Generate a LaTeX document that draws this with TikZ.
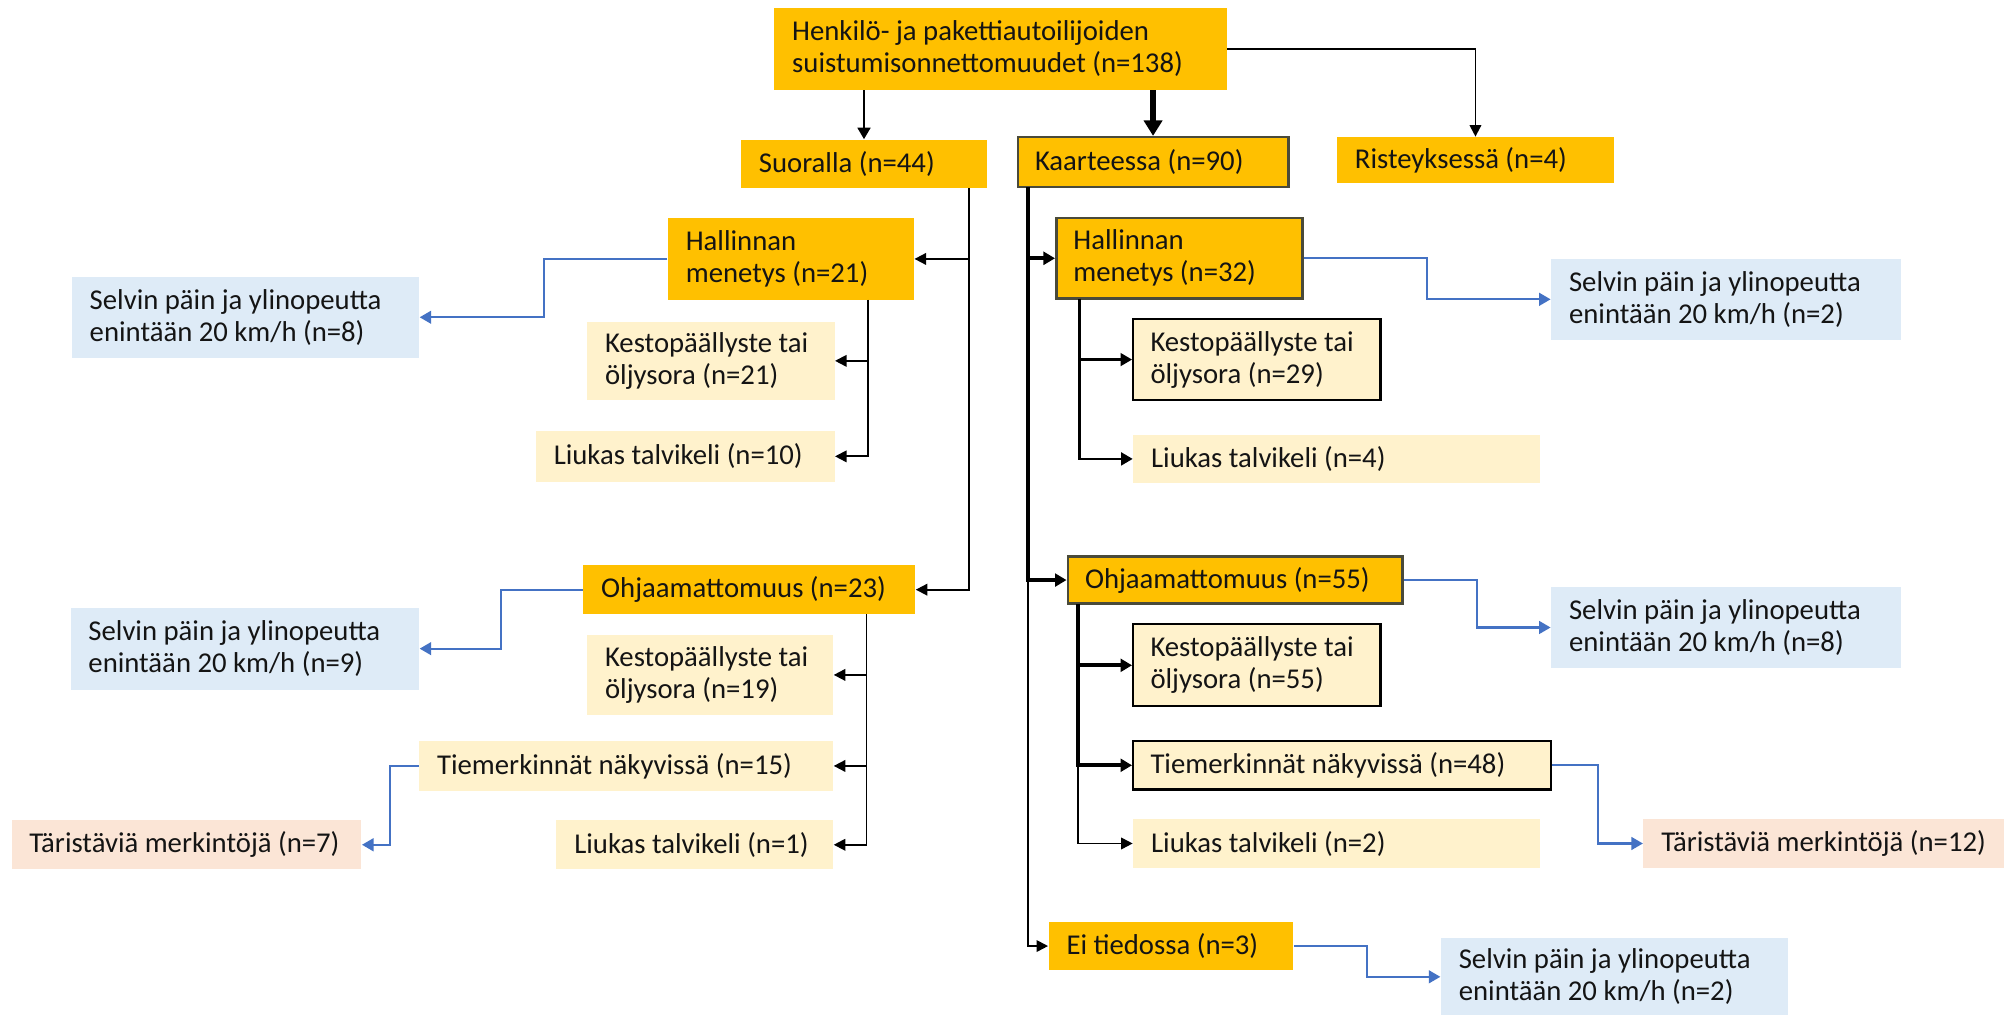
\documentclass[tikz,border=0pt]{standalone}
\usepackage{fontspec}
\setmainfont{Carlito}
\usetikzlibrary{arrows.meta,fit,calc}
\definecolor{org}{HTML}{FFC000}
\definecolor{lyel}{HTML}{FFF2CC}
\definecolor{lblu}{HTML}{DEEBF7}
\definecolor{lpnk}{HTML}{FBE5D6}
\definecolor{bln}{HTML}{4472C4}
\definecolor{brd}{HTML}{4A4A3A}
\newcommand\mybox[7]{%
  \node[#6, fit={(#2,#3)(#4,#5)}, inner sep=0pt] (#1) {};
  \node[txt, anchor=west] (#1-t) at ([xshift=7pt]#1.west) {#7};}
\begin{document}
\begin{tikzpicture}[x=0.5pt,y=-0.5pt,
  txt/.style={align=left,inner sep=0pt,font=\fontsize{11.2}{12.5}\selectfont,text=black!92},
  ob/.style={fill=org},
  obd/.style={fill=org,draw=brd,line width=1pt},
  yb/.style={fill=lyel},
  ybd/.style={fill=lyel,draw=black,line width=0.9pt},
  bb/.style={fill=lblu},
  pb/.style={fill=lpnk},
  arr/.style={draw=black,line width=0.7pt,-{Triangle[length=4.5pt,width=4.5pt]}},
  marr/.style={draw=black,line width=0.9pt,-{Triangle[length=4.5pt,width=5pt]}},
  tarr/.style={draw=black,line width=1.5pt,-{Triangle[length=4.5pt,width=5pt]}},
  barr/.style={draw=bln,line width=0.8pt,-{Triangle[length=4.5pt,width=5pt]}},
]
\path[fill=white] (0,0) rectangle (1568,792);
\useasboundingbox (0,0) rectangle (1568,792);

% top level
\mybox{top}{604}{6}{957}{70}{ob}{Henkilö- ja pakettiautoilijoiden\\suistumisonnettomuudet (n=138)}
\mybox{suo}{578}{109}{770}{147}{ob}{Suoralla (n=44)}
\mybox{kaa}{794}{107}{1005}{146}{obd}{Kaarteessa (n=90)}
\mybox{ris}{1043}{107}{1259}{143}{ob}{Risteyksessä (n=4)}

% left branch
\mybox{hm1}{521}{170}{713}{234}{ob}{Hallinnan\\menetys (n=21)}
\mybox{kp1}{458}{251}{651}{312}{yb}{Kestopäällyste tai\\öljysora (n=21)}
\mybox{lt1}{418}{336}{651}{376}{yb}{Liukas talvikeli (n=10)}
\mybox{sv1}{56}{216}{327}{279}{bb}{Selvin päin ja ylinopeutta\\enintään 20 km/h (n=8)}
\mybox{oh1}{455}{441}{714}{479}{ob}{Ohjaamattomuus (n=23)}
\mybox{kp2}{458}{495}{650}{558}{yb}{Kestopäällyste tai\\öljysora (n=19)}
\mybox{tm1}{327}{578}{650}{617}{yb}{Tiemerkinnät näkyvissä (n=15)}
\mybox{lt2}{434}{640}{650}{678}{yb}{Liukas talvikeli (n=1)}
\mybox{sv2}{55}{474}{327}{538}{bb}{Selvin päin ja ylinopeutta\\enintään 20 km/h (n=9)}
\mybox{ta1}{9}{640}{282}{678}{pb}{Täristäviä merkintöjä (n=7)}

% right branch
\mybox{hm2}{824}{170}{1016}{233}{obd}{Hallinnan\\menetys (n=32)}
\mybox{kp3}{884}{249}{1077}{312}{ybd}{Kestopäällyste tai\\öljysora (n=29)}
\mybox{lt3}{884}{339}{1201}{377}{yb}{Liukas talvikeli (n=4)}
\mybox{sv3}{1210}{202}{1483}{265}{bb}{Selvin päin ja ylinopeutta\\enintään 20 km/h (n=2)}
\mybox{oh2}{833}{434}{1094}{471}{obd}{Ohjaamattomuus (n=55)}
\mybox{kp4}{884}{487}{1077}{551}{ybd}{Kestopäällyste tai\\öljysora (n=55)}
\mybox{tm2}{884}{578}{1210}{616}{ybd}{Tiemerkinnät näkyvissä (n=48)}
\mybox{lt4}{884}{639}{1201}{677}{yb}{Liukas talvikeli (n=2)}
\mybox{sv4}{1210}{458}{1483}{521}{bb}{Selvin päin ja ylinopeutta\\enintään 20 km/h (n=8)}
\mybox{ta2}{1282}{639}{1563}{677}{pb}{Täristäviä merkintöjä (n=12)}
\mybox{ei}{818}{719}{1009}{757}{ob}{Ei tiedossa (n=3)}
\mybox{sv5}{1124}{732}{1395}{792}{bb}{Selvin päin ja ylinopeutta\\enintään 20 km/h (n=2)}

% trunk coordinates
\coordinate (suoT) at (756,147);
\coordinate (hm1T) at (677,234);
\coordinate (oh1T) at (676,479);
\coordinate (kaaT) at (802,146);
\coordinate (hm2T) at (842,233);
\coordinate (oh2T) at (841,471);

% top connectors
\draw[marr] (top.south -| suo.north) -- (suo.north);
\draw[draw=black,line width=2.2pt,-{Triangle[length=6pt,width=7pt]}] (top.south -| kaa.north) -- (kaa.north);
\draw[arr] (top.east) -| (ris.north);

% left branch connectors
\draw[arr] (suoT) |- (oh1.east);
\draw[arr] (suoT) |- (hm1.east);
\draw[arr] (hm1T) |- (lt1.east);
\draw[arr] (hm1T) |- (kp1.east);
\draw[arr] (oh1T) |- (lt2.east);
\draw[arr] (oh1T) |- (tm1.east);
\draw[arr] (oh1T) |- (kp2.east);
\draw[barr] (hm1.west) -| ($(hm1.west)!.5!(sv1.east)$) |- (sv1.east);
\draw[barr] (oh1.west) -| ($(oh1.west)!.5!(sv2.east)$) |- (sv2.east);
\draw[barr] (tm1.west) -| ($(tm1.west)!.5!(ta1.east)$) |- (ta1.east);

% right branch connectors
\draw[arr] (kaaT) |- (ei.west);
\draw[tarr] (kaaT) |- (oh2.west);
\draw[tarr] (kaaT) |- (hm2.west);
\draw[marr] (hm2T) |- (lt3.west);
\draw[marr] (hm2T) |- (kp3.west);
\draw[arr] (oh2T) |- (lt4.west);
\draw[tarr] (oh2T) |- (tm2.west);
\draw[tarr] (oh2T) |- (kp4.west);
\draw[barr] (hm2.east) -| ($(hm2.east)!.5!(sv3.west)$) |- (sv3.west);
\draw[barr] (oh2.east) -| ($(oh2.east)!.5!(sv4.west)$) |- (sv4.west);
\draw[barr] (tm2.east) -| ($(tm2.east)!.5!(ta2.west)$) |- (ta2.west);
\draw[barr] (ei.east) -| ($(ei.east)!.5!(sv5.west)$) |- (sv5.west);
\end{tikzpicture}
\end{document}
